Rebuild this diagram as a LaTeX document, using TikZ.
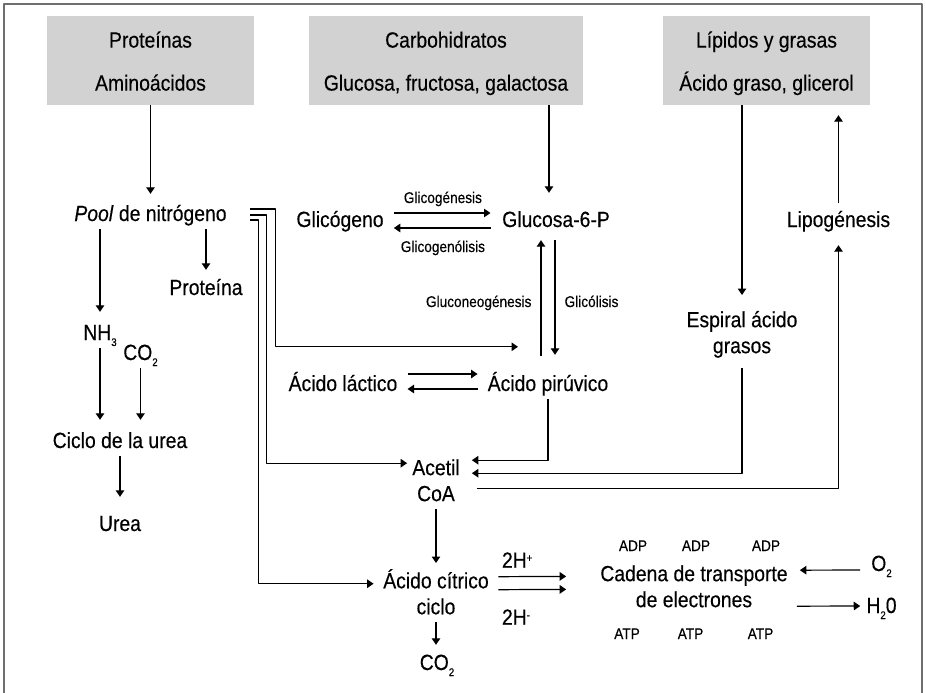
\documentclass[tikz,border=0pt]{standalone}
\usepackage{fontspec}
\setmainfont{Liberation Sans}[FakeStretch=0.88,FakeBold=0.35]
\usepackage{tikz}
\usetikzlibrary{arrows.meta}
\definecolor{boxgray}{HTML}{D2D2D2}
\definecolor{framegray}{HTML}{6E6E6E}
\newcommand{\tstrut}{\rule[-8pt]{0pt}{26pt}}
\newcommand{\chemsub}[1]{\raisebox{-6pt}{\fontsize{11}{11}\selectfont #1}}
\newcommand{\chemsup}[1]{\raisebox{6pt}{\fontsize{11}{11}\selectfont #1}}

\begin{document}
\begin{tikzpicture}[x=1pt,y=-1pt,line join=round,>={Triangle[length=6.5pt,width=8.5pt]},
  srcbox/.style={fill=boxgray,minimum width=207pt,minimum height=89pt,inner sep=0pt,align=center,font=\fontsize{22}{43}\selectfont},
  txt/.style={font=\fontsize{22}{26}\selectfont,inner sep=0pt,align=center},
  word/.style={txt,text height=18pt,text depth=8pt,anchor=base},
  lbl/.style={font=\fontsize{15.5}{18}\selectfont,inner sep=0pt},
  arr/.style={->,line width=1.2pt}]
  \useasboundingbox (0,0) rectangle (926,693);
  \draw[framegray,line width=2.5pt] (4,700) -- (4,4) -- (922,4) -- (922,700);
  % food groups
  \node[srcbox] (prot) at (150.5,60.5) {\strut Proteínas\\\strut Aminoácidos};
  \node[srcbox,minimum width=274pt] (carb) at (446,60.5) {\strut Carbohidratos\\\strut Glucosa, fructosa, galactosa};
  \node[srcbox] (lip) at (766.5,60.5) {\strut Lípidos y grasas\\\strut Ácido graso, glicerol};
  % nitrogen side
  \node[word] (pool) at (150.5,221) {\textit{Pool} de nitrógeno};
  \node[word] (protn) at (206,295) {Proteína};
  \node[word] (nh3) at (100,340) {NH\chemsub{3}};
  \node[word] (co2a) at (140.5,360) {CO\chemsub{2}};
  \node[word] (ciclo) at (120,448) {Ciclo de la urea};
  \node[word] (urea) at (120,531) {Urea};
  \draw[arr,shorten >=9pt] (prot.south) -- (pool.north);
  \draw[arr,shorten >=7pt] (pool.south -| protn.north) -- (protn.north);
  \draw[arr,shorten >=10pt] (pool.south -| nh3.north) -- (nh3.north);
  \draw[arr,shorten >=10pt] (nh3.south) -- (nh3.south |- ciclo.north);
  \draw[arr,shorten >=10pt] (co2a.south) -- (co2a.south |- ciclo.north);
  \draw[arr,shorten >=16pt] (ciclo.south) -- (urea.north);
  % carbohydrates
  \node[word] (glic) at (340,227) {Glicógeno};
  \node[word] (g6p) at (556,227) {Glucosa-6-P};
  \node[word] (lact) at (343,391) {Ácido láctico};
  \node[word] (piru) at (548,391) {Ácido pirúvico};
  \draw[arr,shorten >=16pt] ([xshift=-7pt]g6p.north |- carb.south) -- ([xshift=-7pt]g6p.north);
  \draw[arr,shorten <=10pt,shorten >=11.5pt] ([yshift=9pt]glic.east) -- ([yshift=9pt]g6p.west)
    node[lbl,midway,anchor=base,yshift=10pt] (lgen) {Glicogénesis};
  \draw[arr,shorten <=11.5pt,shorten >=10pt] ([yshift=-6pt]g6p.west) -- ([yshift=-6pt]glic.east)
    node[lbl,midway,anchor=base,yshift=-24pt] (lgenol) {Glicogenólisis};
  \draw[arr,shorten <=17pt,shorten >=5pt] ([xshift=-7pt]piru.north) -- ([xshift=-15pt]g6p.south)
    node[lbl,midway,anchor=base east,xshift=-9pt,yshift=-3pt] (lneo) {Gluconeogénesis};
  \draw[arr,shorten <=5pt,shorten >=18pt] ([xshift=-1pt]g6p.south) -- ([xshift=7pt]piru.north)
    node[lbl,midway,anchor=base west,xshift=9pt,yshift=-3pt] (lgli) {Glicólisis};
  \draw[arr,shorten <=10pt,shorten >=10pt] ([yshift=12pt]lact.east) -- ([yshift=12pt]piru.west);
  \draw[arr,shorten <=10pt,shorten >=10pt] ([yshift=-3pt]piru.west) -- ([yshift=-3pt]lact.east);
  % lipids
  \node[txt,anchor=north] (esp) at (742,309) {\tstrut Espiral ácido\\grasos\tstrut};
  \node[word] (lipo) at (838.5,227) {Lipogénesis};
  \draw[arr,shorten >=14pt] (lip.south -| esp.north) -- (esp.north);
  \draw[arr,shorten <=6pt,shorten >=10pt] (lipo.north) -- (lipo.north |- lip.south);
  % acetyl CoA and citric acid cycle
  \node[txt,anchor=north] (acetil) at (436,457) {\tstrut Acetil\\CoA\tstrut};
  \node[txt,anchor=north] (citr) at (436,569) {\tstrut Ácido cítrico\\ciclo\tstrut};
  \node[word] (co2b) at (437,670) {CO\chemsub{2}};
  \draw[arr,shorten >=12pt] (piru.south) |- ([yshift=23pt]acetil.east);
  \draw[arr,shorten <=7pt,shorten >=12pt] (esp.south) |- ([yshift=10pt]acetil.east);
  \draw[arr,shorten <=17pt,shorten >=10pt] ([yshift=-5pt]acetil.east) -| (lipo.south);
  \draw[arr,shorten <=23.5pt] ([yshift=7pt]pool.east) -- ++(49,0) |- ([xshift=-30pt,yshift=26pt]piru.north);
  \draw[arr,shorten <=23.5pt,shorten >=5pt] ([yshift=1pt]pool.east) -- ++(39.5,0) |- ([yshift=20pt]acetil.west);
  \draw[arr,shorten <=23.5pt,shorten >=9.5pt] ([yshift=-4pt]pool.east) -- ++(31.5,0) |- ([yshift=12pt]citr.west);
  \draw[arr,shorten >=6pt] (acetil.south) -- (citr.north);
  \draw[arr,shorten >=7pt] (citr.south) -- (citr.south |- co2b.north);
  % electron transport chain
  \node[txt,anchor=north] (cadena) at (694,563) {\tstrut Cadena de transporte\\de electrones\tstrut};
  \node[word] (o2) at (881.5,571) {O\chemsub{2}};
  \node[word] (h2o) at (881.5,613) {H\chemsub{2}0};
  \node[lbl,anchor=base] (adp1) at (633,551) {ADP};
  \node[lbl,anchor=base] (adp2) at (696,551) {ADP};
  \node[lbl,anchor=base] (adp3) at (766,551) {ADP};
  \node[lbl,anchor=base] (atp1) at (627,639) {ATP};
  \node[lbl,anchor=base] (atp2) at (690.5,639) {ATP};
  \node[lbl,anchor=base] (atp3) at (760.5,639) {ATP};
  \draw[arr,shorten <=9.5pt,shorten >=34pt] ([yshift=19pt]citr.east) -- ([yshift=13pt]cadena.west)
    node[txt,pos=0,anchor=base west,xshift=12.5pt,yshift=9pt] (hplus) {2H\chemsup{+}};
  \draw[arr,shorten <=9.5pt,shorten >=34pt] ([yshift=6pt]citr.east) -- (cadena.west)
    node[txt,pos=0,anchor=base west,xshift=12.5pt,yshift=-35pt] (hminus) {2H\chemsup{-}};
  \draw[arr,shorten <=11pt,shorten >=12pt] ([yshift=-4pt]o2.west) -- ([yshift=19pt]cadena.east);
  \draw[arr,shorten <=9pt,shorten >=6pt] ([yshift=-17pt]cadena.east) -- ([yshift=2pt]h2o.west);
\end{tikzpicture}
\end{document}
